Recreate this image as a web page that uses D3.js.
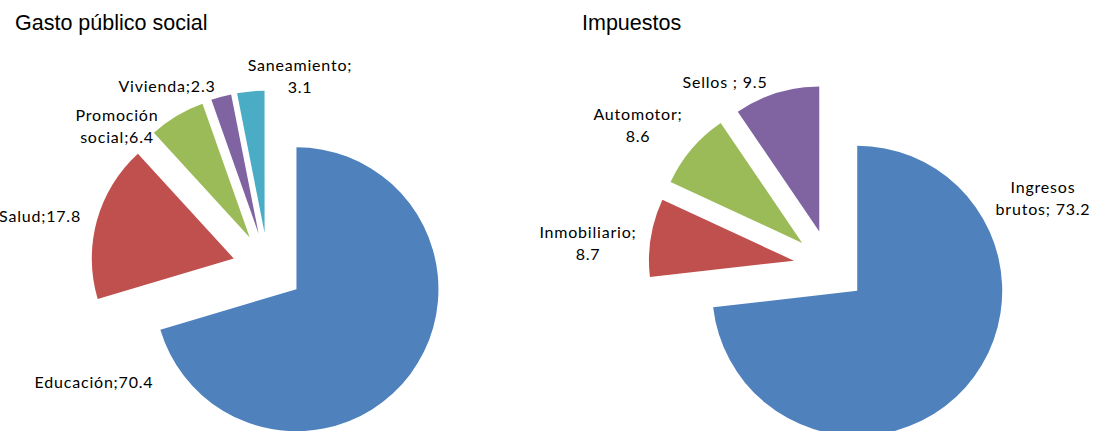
<!DOCTYPE html>
<html>
<head>
<meta charset="utf-8">
<script src="https://cdn.jsdelivr.net/npm/d3@7"></script>
<style>
  body { margin: 0; background: #fff; }
  svg { display: block; }
  .title { font-family: "Liberation Sans", Arial, sans-serif; font-size: 21.5px; fill: #000; }
  .lbl { font-family: Lato, "Noto Sans", sans-serif; font-size: 16px; fill: #000; letter-spacing: 0.8px; }
</style>
</head>
<body>
<div id="chart"></div>
<script>
// ---- data ----
const gastoNames  = ["Educación", "Salud", "Promoción social", "Vivienda", "Saneamiento"];
const gastoValues = [70.4, 17.8, 6.4, 2.3, 3.1];
const impNames    = ["Ingresos brutos", "Inmobiliario", "Automotor", "Sellos"];
const impValues   = [73.2, 8.7, 8.6, 9.5];

const colors = ["#4F81BD", "#C0504D", "#9BBB59", "#8064A2", "#4BACC6"];

const W = 1094, H = 431;
const svg = d3.select("#chart").append("svg")
  .attr("width", W).attr("height", H);

// label layout: x, first baseline, anchor, lines
const gastoLabelPos = [
  { x: 94,  y: 388, anchor: "middle", lines: ["Educación;70.4"] },
  { x: 81,  y: 222, anchor: "end",    lines: ["Salud;17.8"] },
  { x: 117, y: 121, anchor: "middle", lines: ["Promoción", "social;6.4"] },
  { x: 167, y: 92,  anchor: "middle", lines: ["Vivienda;2.3"] },
  { x: 300, y: 71,  anchor: "middle", lines: ["Saneamiento;", "3.1"] }
];
const impLabelPos = [
  { x: 1043, y: 193, anchor: "middle", lines: ["Ingresos", "brutos; 73.2"] },
  { x: 588,  y: 238, anchor: "middle", lines: ["Inmobiliario;", "8.7"] },
  { x: 638,  y: 120, anchor: "middle", lines: ["Automotor;", "8.6"] },
  { x: 725,  y: 88,  anchor: "middle", lines: ["Sellos ; 9.5"] }
];

function drawPie(values, cx, cy, r, explode, labels) {
  const pie = d3.pie().sort(null).value(d => d);
  const arc = d3.arc().innerRadius(0).outerRadius(r);
  const g = svg.append("g").attr("transform", `translate(${cx},${cy})`);

  g.selectAll("path")
    .data(pie(values))
    .join("path")
    .attr("transform", d => {
      const mid = (d.startAngle + d.endAngle) / 2;
      return `translate(${explode * Math.sin(mid)},${-explode * Math.cos(mid)})`;
    })
    .attr("d", arc)
    .attr("fill", (d, i) => colors[i]);

  labels.forEach(l => {
    const t = svg.append("text")
      .attr("class", "lbl")
      .attr("text-anchor", l.anchor);
    l.lines.forEach((s, j) => {
      t.append("tspan").attr("x", l.x).attr("y", l.y + j * 22).text(s);
    });
  });
}

drawPie(gastoValues, 268, 268, 142, 35.5, gastoLabelPos);
drawPie(impValues, 830, 266.5, 145, 36.5, impLabelPos);

svg.append("text").attr("class", "title").attr("x", 15).attr("y", 30).text("Gasto público social");
svg.append("text").attr("class", "title").attr("x", 582).attr("y", 30).text("Impuestos");
</script>
</body>
</html>
